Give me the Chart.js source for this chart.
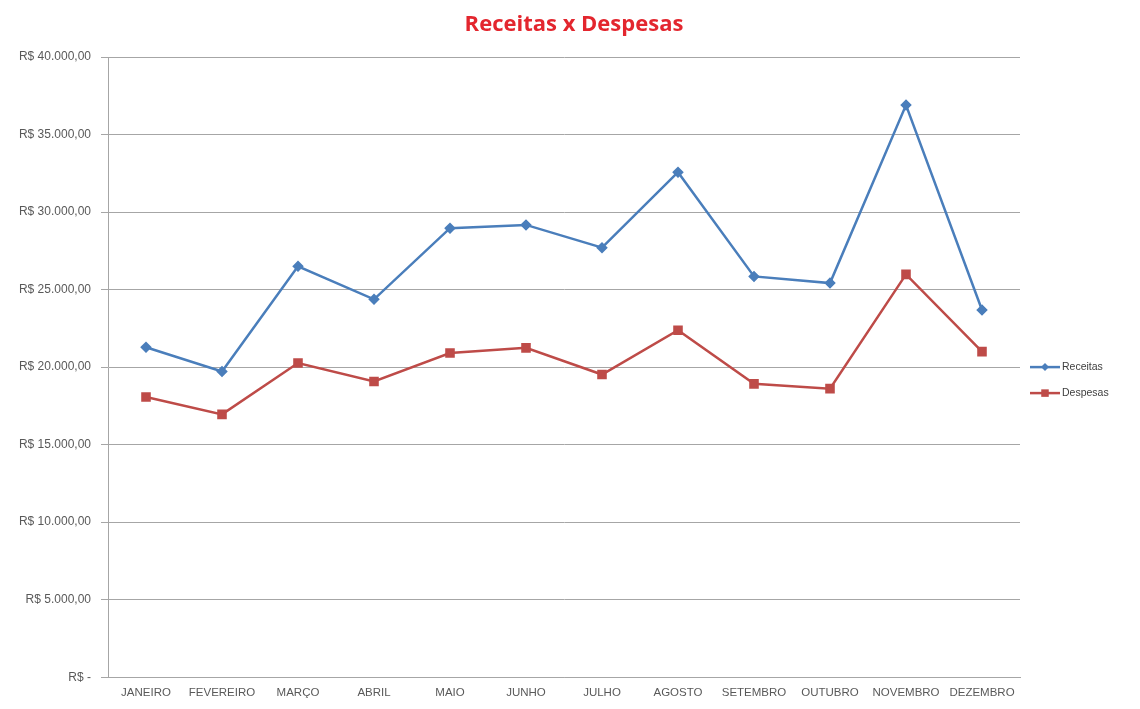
<!DOCTYPE html>
<html>
<head>
<meta charset="utf-8">
<script src="https://cdn.jsdelivr.net/npm/chart.js@4"></script>
<style>
  html, body { margin: 0; padding: 0; background: #fff; }
  #wrap { width: 1140px; height: 709px; position: relative; }
</style>
</head>
<body>
<div id="wrap"><canvas id="chart"></canvas></div>
<script>
const months = ['JANEIRO', 'FEVEREIRO', 'MARÇO', 'ABRIL', 'MAIO', 'JUNHO', 'JULHO', 'AGOSTO', 'SETEMBRO', 'OUTUBRO', 'NOVEMBRO', 'DEZEMBRO'];
const receitas = [21280, 19720, 26500, 24370, 28960, 29170, 27700, 32570, 25850, 25420, 36900, 23680];
const despesas = [18070, 16950, 20260, 19070, 20910, 21240, 19520, 22380, 18920, 18610, 25980, 21000];
const yTicks = [0, 5000, 10000, 15000, 20000, 25000, 30000, 35000, 40000];
const chartTitle = 'Receitas x Despesas';

const brl = v => {
    if (v === 0) return 'R$ -';
    return 'R$ ' + v.toLocaleString('pt-BR', { minimumFractionDigits: 2, maximumFractionDigits: 2 });
};

// title centred on the whole canvas, like the Excel original
const pageTitle = {
    id: 'pageTitle',
    afterDraw(chart) {
        const { ctx } = chart;
        ctx.save();
        ctx.fillStyle = '#e3262e';
        ctx.font = 'bold 22px "Open Sans", "Liberation Sans", sans-serif';
        ctx.textAlign = 'center';
        ctx.textBaseline = 'middle';
        ctx.fillText(chartTitle, chart.width / 2 + 4, 25);
        ctx.restore();
    }
};

// legend drawn to the right of the plot (line + marker + label)
const sideLegend = {
    id: 'sideLegend',
    afterDraw(chart) {
        const { ctx, chartArea } = chart;
        const x0 = chartArea.right + 10;
        const yMid = (chartArea.top + chartArea.bottom) / 2;
        chart.data.datasets.forEach((ds, i) => {
            const y = yMid + i * 26;
            ctx.save();
            ctx.strokeStyle = ds.borderColor;
            ctx.lineWidth = 2.5;
            ctx.beginPath();
            ctx.moveTo(x0, y);
            ctx.lineTo(x0 + 30, y);
            ctx.stroke();
            ctx.fillStyle = ds.pointBackgroundColor;
            const r = ds.pointRadius;
            if (ds.pointStyle === 'rectRot') {
                ctx.beginPath();
                ctx.moveTo(x0 + 15, y - r);
                ctx.lineTo(x0 + 15 + r, y);
                ctx.lineTo(x0 + 15, y + r);
                ctx.lineTo(x0 + 15 - r, y);
                ctx.closePath();
                ctx.fill();
            } else {
                ctx.fillRect(x0 + 15 - r * 0.75, y - r * 0.75, r * 1.5, r * 1.5);
            }
            ctx.fillStyle = '#404040';
            ctx.font = '10.5px "Liberation Sans", Arial, sans-serif';
            ctx.textBaseline = 'middle';
            ctx.fillText(ds.label, x0 + 32, y);
            ctx.restore();
        });
    }
};

new Chart(document.getElementById('chart'), {
    type: 'line',
    data: {
        labels: months,
        datasets: [
            {
                label: 'Receitas',
                data: receitas,
                borderColor: '#4a7ebb',
                backgroundColor: '#4a7ebb',
                pointBackgroundColor: '#4a7ebb',
                pointBorderColor: '#4a7ebb',
                pointStyle: 'rectRot',
                pointRadius: 4,
                borderWidth: 2.5,
                tension: 0
            },
            {
                label: 'Despesas',
                data: despesas,
                borderColor: '#be4b48',
                backgroundColor: '#be4b48',
                pointBackgroundColor: '#be4b48',
                pointBorderColor: '#be4b48',
                pointStyle: 'rect',
                pointRadius: 5,
                borderWidth: 2.5,
                tension: 0
            }
        ]
    },
    options: {
        responsive: true,
        maintainAspectRatio: false,
        animation: false,
        layout: { padding: { left: 8, right: 120, bottom: 0, top: 57 } },
        plugins: {
            legend: { display: false },
            tooltip: { enabled: false },
            title: { display: false }
        },
        scales: {
            x: {
                offset: true,
                grid: { display: false, drawTicks: false },
                border: { color: '#a6a6a6', width: 1 },
                ticks: {
                    color: '#595959',
                    font: { family: '"Liberation Sans", Arial, sans-serif', size: 11.5 },
                    padding: 9,
                    maxRotation: 0,
                    autoSkip: false
                }
            },
            y: {
                min: 0,
                max: 40000,
                afterBuildTicks: axis => { axis.ticks = yTicks.map(v => ({ value: v })); },
                afterFit: axis => { axis.width = 100; },
                grid: { color: '#a6a6a6', lineWidth: 1, tickLength: 7 },
                border: { color: '#a6a6a6', width: 1 },
                ticks: {
                    color: '#595959',
                    font: { family: '"Liberation Sans", Arial, sans-serif', size: 12 },
                    padding: 10,
                    callback: v => brl(v)
                }
            }
        }
    },
    plugins: [pageTitle, sideLegend]
});
</script>
</body>
</html>
